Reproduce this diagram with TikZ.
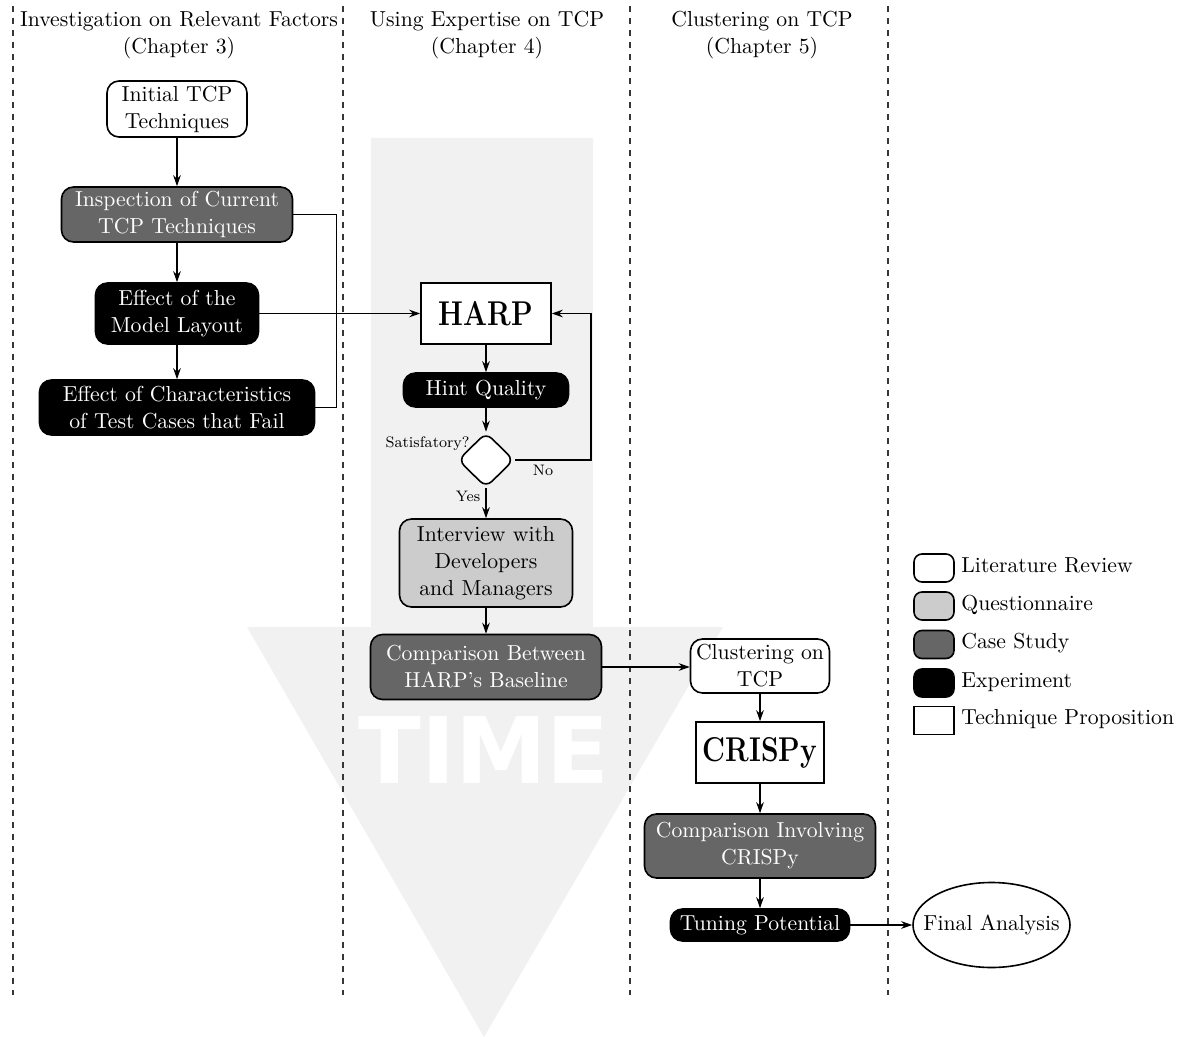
\documentclass[tikz,border=0pt]{standalone}
\usepackage{fontspec}
\usepackage{graphicx}
\usetikzlibrary{shapes.geometric, arrows.meta}
\newfontfamily\timefont{DejaVu Sans}
\definecolor{timebg}{RGB}{241,241,241}
\definecolor{casegray}{RGB}{102,102,102}
\definecolor{questgray}{RGB}{204,204,204}
\definecolor{laneline}{RGB}{55,55,55}
\newcommand\nodefont{\fontsize{10.85}{13.5}\selectfont}
\newcommand\tinylabelfont{\fontsize{7.6}{9}\selectfont}
\newcommand\toolname[1]{\scalebox{0.82}[1]{\fontsize{17.2}{18}\selectfont\bfseries #1}}

\tikzset{
  box/.style={draw, line width=0.8pt, align=center, font=\nodefont, inner sep=1pt},
  litrev/.style={box, rounded corners=6pt, fill=white},
  quest/.style={box, rounded corners=6pt, fill=questgray},
  casest/.style={box, rounded corners=6pt, fill=casegray, text=white},
  expmt/.style={box, rounded corners=6pt, fill=black, text=white},
  techprop/.style={box, fill=white},
  decision/.style={draw, line width=0.8pt, diamond, fill=white, inner sep=0pt,
                   minimum width=28pt, minimum height=27.5pt, rounded corners=4pt},
  conn/.style={line width=0.6pt, -{Stealth[length=5.5pt,width=3.8pt]}},
  plain/.style={line width=0.6pt},
  lane/.style={dashed, laneline, line width=0.7pt},
  header/.style={align=center, font=\nodefont, inner sep=0pt},
  smalllbl/.style={font=\tinylabelfont, inner sep=0pt},
  legendbox/.style={minimum width=20pt, minimum height=14pt, rounded corners=4pt},
  legendtext/.style={anchor=mid west, font=\nodefont, inner sep=0pt}
}

\begin{document}
\begin{tikzpicture}[x=0.5pt, y=-0.5pt]
\useasboundingbox (0,0) rectangle (1183,1037);

% background time arrow
\fill[timebg] (371,138) -- (593,138) -- (593,627) -- (723,627) -- (484,1037)
  -- (247,627) -- (371,627) -- cycle;
\node[anchor=base, inner sep=0pt, text=white,
      font=\timefont\bfseries\fontsize{46}{46}\selectfont] (timelbl) at (484,783) {TIME};

% swim lanes
\foreach \lx in {13,343,630,888}
  \draw[lane] (\lx,6) -- (\lx,995);

% lane headers
\node[header] (hdra) at (179,35) {Investigation on Relevant Factors\\(Chapter 3)};
\node[header] (hdrb) at (487,35) {Using Expertise on TCP\\(Chapter 4)};
\node[header] (hdrc) at (762,35) {Clustering on TCP\\(Chapter 5)};

% chapter 3
\node[litrev, minimum width=70pt, minimum height=28pt] (init) at (177,109) {Initial TCP\\Techniques};
\node[casest, minimum width=115.5pt, minimum height=27.5pt] (insp) at (177,214.5) {Inspection of Current\\TCP Techniques};
\node[expmt, minimum width=81.5pt, minimum height=30.5pt] (model) at (177,313.5) {Effect of the\\Model Layout};
\node[expmt, minimum width=137.5pt, minimum height=27.5pt] (charac) at (177,407.5) {Effect of Characteristics\\of Test Cases that Fail};

% chapter 4
\node[techprop, minimum width=65pt, minimum height=30.5pt] (harp) at (486,313.5) {\toolname{HARP}};
\node[expmt, minimum width=82.5pt, minimum height=17pt] (hint) at (486,390) {Hint Quality};
\node[decision] (dia) at (486,460) {};
\coordinate (loopturn) at (591,460);
\node[quest, minimum width=86.5pt, minimum height=44pt] (interv) at (486,563) {Interview with\\Developers\\and Managers};
\node[casest, minimum width=115.5pt, minimum height=32.5pt] (compH) at (486,667) {Comparison Between\\HARP's Baseline};

\node[smalllbl, anchor=base east] (satlbl) at (470,447) {Satisfatory?};
\node[smalllbl, anchor=base] (nolbl) at (543,475) {No};
\node[smalllbl, anchor=base] (yeslbl) at (468,502) {Yes};

% chapter 5
\node[litrev, minimum width=69.5pt, minimum height=27pt] (clust) at (760,666) {Clustering on\\TCP};
\node[techprop, minimum width=64pt, minimum height=30.5pt] (crispy) at (760,752.5) {\toolname{CRISPy}};
\node[casest, minimum width=115.5pt, minimum height=32pt] (compC) at (760,846) {Comparison Involving\\CRISPy};
\node[expmt, minimum width=89.5pt, minimum height=16pt] (tuning) at (760,925) {Tuning Potential};

% final step
\node[ellipse, draw, line width=0.8pt, fill=white, font=\nodefont, inner sep=0pt,
      minimum width=78.5pt, minimum height=42.5pt] (final) at (991.5,925) {\makebox[0pt]{Final Analysis}};

% connectors, chapter 3
\draw[conn] (init) -- (insp);
\draw[conn] (insp) -- (model);
\draw[conn] (model) -- (charac);
\draw[plain] (insp.east) -- ++(43,0) |- (charac.east);
\draw[conn] (model.east) -- (harp.west);

% connectors, chapter 4
\draw[conn] (harp) -- (hint);
\draw[conn] (hint) -- (dia);
\draw[conn] (dia.east) -- (loopturn) |- (harp.east);
\draw[conn] (dia) -- (interv);
\draw[conn] (interv) -- (compH);
\draw[conn] (compH.east) -- (compH.east -| clust.west);

% connectors, chapter 5
\draw[conn] (clust) -- (crispy);
\draw[conn] (crispy) -- (compC);
\draw[conn] (compC) -- (tuning);
\draw[conn] (tuning.east) -- (final.west);

% legend
\node[litrev, legendbox] (lg1) at (934,568) {};
\node[legendtext] (lt1) at (961,568) {Literature Review};
\node[quest, legendbox] (lg2) at (934,606) {};
\node[legendtext] (lt2) at (961,606) {Questionnaire};
\node[casest, legendbox] (lg3) at (934,644.5) {};
\node[legendtext] (lt3) at (961,644.5) {Case Study};
\node[expmt, legendbox] (lg4) at (934,683) {};
\node[legendtext] (lt4) at (961,683) {Experiment};
\node[techprop, minimum width=20pt, minimum height=14pt] (lg5) at (934,720.5) {};
\node[legendtext] (lt5) at (961,720.5) {Technique Proposition};
\end{tikzpicture}
\end{document}
